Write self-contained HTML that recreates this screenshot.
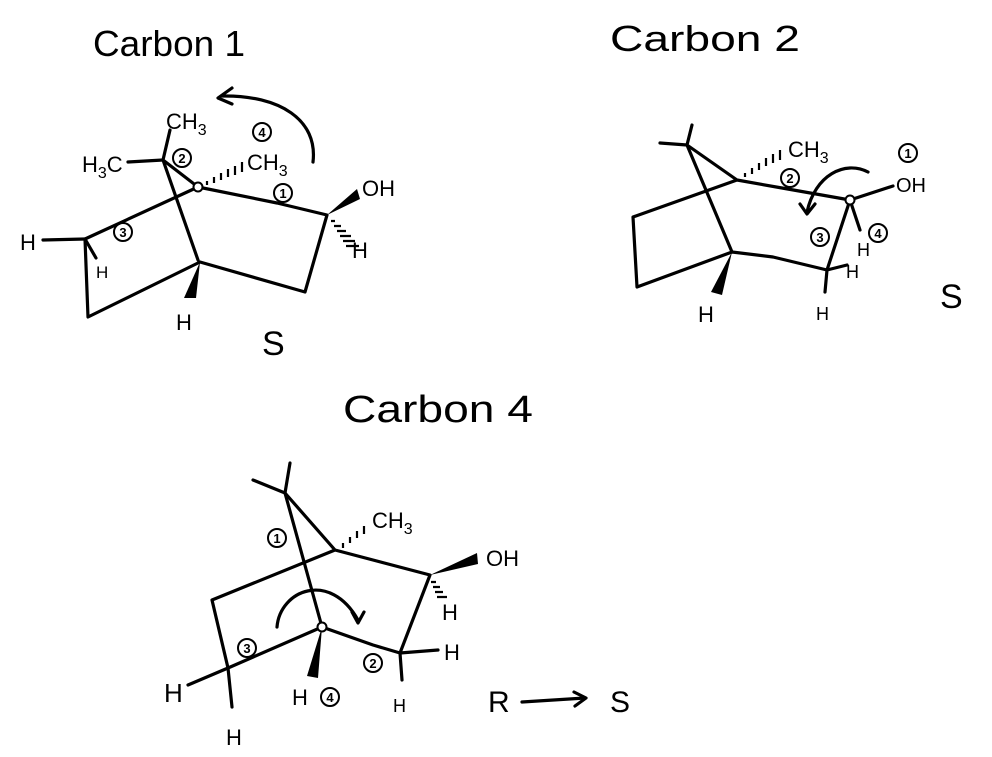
<!DOCTYPE html>
<html><head><meta charset="utf-8"><style>
html,body{margin:0;padding:0;background:#fff;}
svg{display:block}
text{font-family:"Liberation Sans",sans-serif;fill:#000}
</style></head><body>
<svg width="992" height="757" viewBox="0 0 992 757" xmlns="http://www.w3.org/2000/svg">
<g stroke="#000" stroke-width="3.2" fill="none" stroke-linecap="round" stroke-linejoin="round">
<!-- Carbon 1 -->
<polyline points="170,130 163,160 198,187 277,203 327,215 305,292 200,262 88,317 85,239 198,187"/>
<line x1="128" y1="162" x2="163" y2="160"/>
<line x1="163" y1="160" x2="198" y2="260"/>
<line x1="43" y1="240" x2="85" y2="239"/>
<line x1="85" y1="239" x2="96" y2="258"/>
<path d="M313,162 C318,120 280,95 222,96"/>
<path d="M232,88 L218,98 L232,104"/>
<!-- Carbon 2 -->
<polyline points="692,125 687,145 737,180 782,188 850,200 827,270 773,257 732,252 637,287 633,217 737,180"/>
<line x1="660" y1="143" x2="687" y2="145"/>
<line x1="687" y1="145" x2="732" y2="252"/>
<line x1="850" y1="200" x2="893" y2="186"/>
<line x1="850" y1="200" x2="860" y2="230"/>
<line x1="827" y1="270" x2="847" y2="265"/>
<line x1="827" y1="270" x2="825" y2="292"/>
<path d="M868,172 C845,160 815,175 807,212"/>
<path d="M800,204 L807,214 L815,204"/>
<!-- Carbon 4 -->
<polyline points="290,463 285,493 335,550 430,575 400,653 373,645 322,627 228,668 212,600 335,550"/>
<line x1="253" y1="480" x2="285" y2="493"/>
<line x1="285" y1="493" x2="322" y2="627"/>
<line x1="228" y1="668" x2="188" y2="685"/>
<line x1="228" y1="668" x2="232" y2="707"/>
<line x1="400" y1="653" x2="438" y2="650"/>
<line x1="400" y1="653" x2="402" y2="680"/>
<path d="M277,627 C280,590 330,570 358,620"/>
<path d="M352,612 L358,623 L364,612"/>
<line x1="522" y1="702" x2="585" y2="698"/>
<path d="M574,692 L586,698 L575,706"/>
</g>
<!-- wedges -->
<g fill="#000">
<polygon points="200,262 184,298 196,298"/>
<polygon points="327,215 357,189 360,199"/>
<polygon points="732,252 711,292 722,295"/>
<polygon points="430,575 477,553 478,564"/>
<polygon points="322,627 307,676 318,678"/>
</g>
<!-- hashes -->
<g stroke="#000" stroke-width="2.2">
<path d="M207,181v4M214,177v6M221,173v7M228,169v8M235,166v9M242,162v10"/>
<path d="M331,221h4M334,226h7M337,231h9M340,236h11M343,241h12M346,246h13"/>
<path d="M745,173v4M752,168v6M759,163v7M766,158v8M773,154v9M780,150v10"/>
<path d="M343,543v5M350,537v6M357,531v7M364,526v8"/>
<path d="M431,582h5M433,587h7M435,592h8M437,597h10"/>
</g>
<!-- atom dots -->
<g stroke="#000" stroke-width="2" fill="#fff">
<circle cx="198" cy="187" r="4.5"/><circle cx="850" cy="200" r="4.5"/><circle cx="322" cy="627" r="4.5"/>
</g>
<!-- circled numbers -->
<g stroke="#000" stroke-width="2" fill="none">
<circle cx="182" cy="158" r="9"/><circle cx="262" cy="132" r="9"/><circle cx="283" cy="193" r="9"/><circle cx="123" cy="232" r="9"/>
<circle cx="908" cy="153" r="9"/><circle cx="790" cy="178" r="9"/><circle cx="820" cy="237" r="9"/><circle cx="878" cy="233" r="9"/>
<circle cx="277" cy="538" r="9"/><circle cx="247" cy="648" r="9"/><circle cx="373" cy="663" r="9"/><circle cx="330" cy="697" r="9"/>
</g>
<g font-size="13" text-anchor="middle" font-weight="bold">
<text x="182" y="163">2</text><text x="262" y="137">4</text><text x="283" y="198">1</text><text x="123" y="237">3</text>
<text x="908" y="158">1</text><text x="790" y="183">2</text><text x="820" y="242">3</text><text x="878" y="238">4</text>
<text x="277" y="543">1</text><text x="247" y="653">3</text><text x="373" y="668">2</text><text x="330" y="702">4</text>
</g>
<!-- titles -->
<text x="93" y="56" font-size="36" textLength="152" lengthAdjust="spacingAndGlyphs">Carbon 1</text>
<text x="610" y="51" font-size="36" textLength="190" lengthAdjust="spacingAndGlyphs">Carbon 2</text>
<text x="343" y="422" font-size="38" textLength="190" lengthAdjust="spacingAndGlyphs">Carbon 4</text>
<!-- labels -->
<g font-size="22">
<text x="166" y="129">CH<tspan font-size="16" dy="6">3</tspan></text>
<text x="82" y="172">H<tspan font-size="16" dy="6">3</tspan><tspan dy="-6">C</tspan></text>
<text x="247" y="170">CH<tspan font-size="16" dy="6">3</tspan></text>
<text x="362" y="196">OH</text>
<text x="352" y="258">H</text>
<text x="20" y="250">H</text>
<text x="96" y="278" font-size="17">H</text>
<text x="176" y="330">H</text>
<text x="262" y="355" font-size="34">S</text>
<text x="788" y="157">CH<tspan font-size="16" dy="6">3</tspan></text>
<text x="896" y="192" font-size="20">OH</text>
<text x="857" y="256" font-size="18">H</text>
<text x="846" y="278" font-size="18">H</text>
<text x="816" y="320" font-size="18">H</text>
<text x="698" y="322">H</text>
<text x="940" y="308" font-size="34">S</text>
<text x="372" y="528">CH<tspan font-size="16" dy="6">3</tspan></text>
<text x="486" y="566">OH</text>
<text x="442" y="620">H</text>
<text x="444" y="660">H</text>
<text x="393" y="712" font-size="18">H</text>
<text x="164" y="702" font-size="26">H</text>
<text x="226" y="745">H</text>
<text x="292" y="705">H</text>
<text x="488" y="712" font-size="30">R</text>
<text x="610" y="712" font-size="30">S</text>
</g>
</svg>
</body></html>
